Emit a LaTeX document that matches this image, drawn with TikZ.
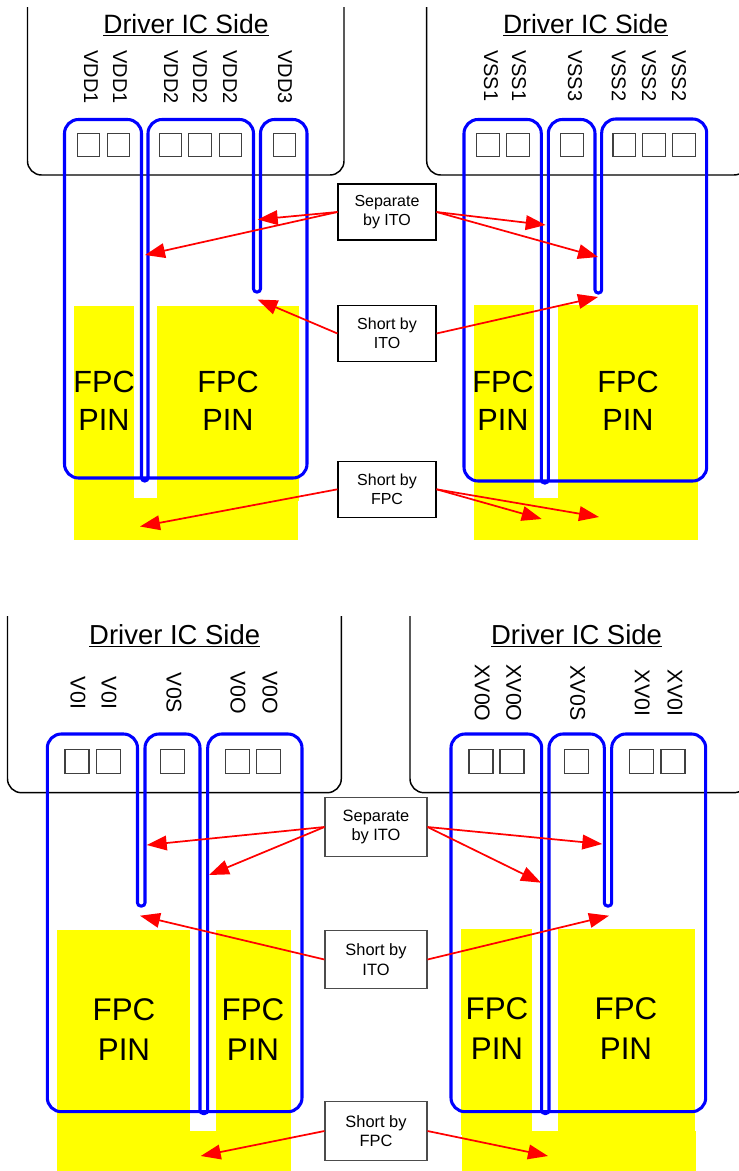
\documentclass[tikz,border=0pt]{standalone}
\usepackage{fontspec}
\setmainfont{Liberation Sans}
\usepackage{xcolor}
\usetikzlibrary{arrows.meta}
\definecolor{pinyellow}{RGB}{255,255,0}
\definecolor{tracecolor}{RGB}{0,0,255}
\definecolor{hintcolor}{RGB}{255,0,0}

\begin{document}
\begin{tikzpicture}[x=0.75pt,y=-0.75pt,
    icbox/.style={line width=1.1pt, rounded corners=10.5pt},
    trace/.style={tracecolor, line width=2.3pt},
    pin/.style={fill=pinyellow, draw=none},
    pad/.style={draw=black!75, line width=0.8pt, minimum size=17pt, inner sep=0pt},
    sidetitle/.style={inner sep=0pt, font=\fontsize{19.9}{24}\selectfont},
    sidetitleb/.style={inner sep=0pt, font=\fontsize{20.6}{24}\selectfont},
    signal/.style={rotate=-90, inner sep=0pt, font=\fontsize{15}{18}\selectfont},
    signalb/.style={rotate=-90, inner sep=0pt, font=\fontsize{16}{18}\selectfont},
    fpc/.style={align=center, inner sep=0pt, font=\fontsize{23}{28.5}\selectfont},
    fpcb/.style={align=center, inner sep=0pt, font=\fontsize{23.5}{30}\selectfont},
    note/.style={draw, fill=white, line width=0.8pt, align=center, inner sep=0pt, minimum width=73.5pt, minimum height=42pt, font=\fontsize{12}{13.9}\selectfont},
    noteb/.style={draw=black!70, fill=white, line width=0.8pt, align=center, inner sep=0pt, minimum width=76.5pt, minimum height=44pt, font=\fontsize{12.3}{14.6}\selectfont},
    hint/.style={hintcolor, line width=1.3pt, -{Triangle[length=15pt,width=11pt]}}]

    \useasboundingbox (0,0) rectangle (739,1171);

    %===========================
    % FPC pins
    %===========================

    % Top Left
    \fill[pin] (74,306) rectangle (134,498);
    \fill[pin] (157,306) rectangle (299,501);
    \fill[pin] (74,498) rectangle (298,540);

    % Top Right
    \fill[pin] (474,305) rectangle (534,498);
    \fill[pin] (558,305) rectangle (698,498);
    \fill[pin] (474,498) rectangle (698,540);

    % Bottom Left
    \fill[pin] (57,930) rectangle (190,1131);
    \fill[pin] (216,930) rectangle (291,1131);
    \fill[pin] (57,1131) rectangle (291,1171);

    % Bottom Right
    \fill[pin] (461,929) rectangle (532,1135);
    \fill[pin] (558,929) rectangle (695,1131);
    \fill[pin] (462,1131) rectangle (696,1171);

    \node (F1) at (104,401) [fpc]{FPC\\PIN};
    \node (F2) at (228,401) [fpc]{FPC\\PIN};
    \node (F3) at (503,401) [fpc]{FPC\\PIN};
    \node (F4) at (628,401) [fpc]{FPC\\PIN};
    \node (F5) at (124,1030) [fpcb]{FPC\\PIN};
    \node (F6) at (253,1030) [fpcb]{FPC\\PIN};
    \node (F7) at (497,1029) [fpcb]{FPC\\PIN};
    \node (F8) at (626,1029) [fpcb]{FPC\\PIN};

    %===========================
    % Driver IC
    %===========================

    \draw[icbox] (27.5,7) -- (27.5,175) -- (344,175) -- (344,7);
    \draw[icbox] (426.7,7) -- (426.7,175) -- (748,175) -- (748,7);
    \draw[icbox] (7.5,616) -- (7.5,792.7) -- (341.3,792.7) -- (341.3,616);
    \draw[icbox] (410,616) -- (410,792.7) -- (748,792.7) -- (748,616);

    \node (T1) at (186,25) [sidetitle]{\underline{Driver IC Side}};
    \node (T2) at (585.6,25) [sidetitle]{\underline{Driver IC Side}};
    \node (T3) at (174.7,636) [sidetitleb]{\underline{Driver IC Side}};
    \node (T4) at (576.5,636) [sidetitleb]{\underline{Driver IC Side}};

    % Top Left
    \node (A1) at (91,50) [signal,anchor=west]{VDD1};
    \node (A2) at (120,50) [signal,anchor=west]{VDD1};
    \node (A3) at (171,50) [signal,anchor=west]{VDD2};
    \node (A4) at (200,50) [signal,anchor=west]{VDD2};
    \node (A5) at (230,50) [signal,anchor=west]{VDD2};
    \node (A6) at (285,50) [signal,anchor=west]{VDD3};
    \node (PA1) at (88.5,145) [pad]{};
    \node (PA2) at (118.5,145) [pad]{};
    \node (PA3) at (170.5,145) [pad]{};
    \node (PA4) at (200,145) [pad]{};
    \node (PA5) at (230.5,145) [pad]{};
    \node (PA6) at (284.5,145) [pad]{};

    % Top Right
    \node (B1) at (491,50) [signal,anchor=west]{VSS1};
    \node (B2) at (519,50) [signal,anchor=west]{VSS1};
    \node (B3) at (575,50) [signal,anchor=west]{VSS3};
    \node (B4) at (618.7,50) [signal,anchor=west]{VSS2};
    \node (B5) at (649,50) [signal,anchor=west]{VSS2};
    \node (B6) at (679,50) [signal,anchor=west]{VSS2};
    \node (PB1) at (488,145) [pad]{};
    \node (PB2) at (518,145) [pad]{};
    \node (PB3) at (572,145) [pad]{};
    \node (PB4) at (624.3,145) [pad]{};
    \node (PB5) at (654,145) [pad]{};
    \node (PB6) at (684,145) [pad]{};

    % Bottom Left
    \node (C1) at (78,693) [signalb]{V0I};
    \node (C2) at (109,693) [signalb]{V0I};
    \node (C3) at (174,693) [signalb]{V0S};
    \node (C4) at (238,693) [signalb]{V0O};
    \node (C5) at (270,693) [signalb]{V0O};
    \node (PC1) at (77,761.5) [pad,minimum size=18pt]{};
    \node (PC2) at (108.5,761.5) [pad,minimum size=18pt]{};
    \node (PC3) at (172.5,761.5) [pad,minimum size=18pt]{};
    \node (PC4) at (237.5,761.5) [pad,minimum size=18pt]{};
    \node (PC5) at (268.7,761.5) [pad,minimum size=18pt]{};

    % Bottom Right
    \node (D1) at (482.3,693) [signalb]{XV0O};
    \node (D2) at (513.7,693) [signalb]{XV0O};
    \node (D3) at (577.7,693) [signalb]{XV0S};
    \node (D4) at (642.3,693) [signalb]{XV0I};
    \node (D5) at (675,693) [signalb]{XV0I};
    \node (PD1) at (481,761.5) [pad,minimum size=18pt]{};
    \node (PD2) at (512,761.5) [pad,minimum size=18pt]{};
    \node (PD3) at (576.7,761.5) [pad,minimum size=18pt]{};
    \node (PD4) at (641.7,761.5) [pad,minimum size=18pt]{};
    \node (PD5) at (673,761.5) [pad,minimum size=18pt]{};

    %===========================
    % Traces
    %===========================

    \draw[trace] (64.5,300) [rounded corners=10.5pt] -- (64.5,119.5) -- (141.5,119.5)
        [rounded corners=2.4pt] -- (141.5,481) -- (148,481)
        [rounded corners=10.5pt] -- (148,119.5) -- (253.5,119.5)
        [rounded corners=2.4pt] -- (253.5,292) -- (260.5,292)
        [rounded corners=10.5pt] -- (260.5,119.5) -- (307,119.5) -- (307,478) -- (64.5,478) -- cycle;

    \draw[trace] (464,300) [rounded corners=10.5pt] -- (464,119.5) -- (541.3,119.5)
        [rounded corners=2.4pt] -- (541.3,483) -- (548.3,483)
        [rounded corners=10.5pt] -- (548.3,119.5) -- (595,119.5)
        [rounded corners=2.4pt] -- (595,293) -- (601.7,293)
        [rounded corners=10.5pt] -- (601.7,119) -- (706.7,119) -- (706.7,481) -- (464,481) -- cycle;

    \draw[trace] (47.3,900) [rounded corners=10.5pt] -- (47.3,734) -- (137.5,734)
        [rounded corners=2.4pt] -- (137.5,906) -- (145,906)
        [rounded corners=10.5pt] -- (145,734) -- (200,734)
        [rounded corners=2.4pt] -- (200,1113.5) -- (207.7,1113.5)
        [rounded corners=10.5pt] -- (207.7,734) -- (302,734) -- (302,1111.7) -- (47.3,1111.7) -- cycle;

    \draw[trace] (451,900) [rounded corners=10.5pt] -- (451,734) -- (541.7,734)
        [rounded corners=2.4pt] -- (541.7,1113.5) -- (549,1113.5)
        [rounded corners=10.5pt] -- (549,734) -- (604.3,734)
        [rounded corners=2.4pt] -- (604.3,906) -- (611.7,906)
        [rounded corners=10.5pt] -- (611.7,734) -- (705.7,734) -- (705.7,1111.7) -- (451,1111.7) -- cycle;

    %===========================
    % Callouts
    %===========================

    \node (S1) at (387,212) [note]{Separate\\by ITO};
    \node (I1) at (387,333.5) [note]{Short by\\ITO};
    \node (P1) at (387,489.3) [note]{Short by\\FPC};
    \node (S2) at (376,827) [noteb]{Separate\\by ITO};
    \node (I2) at (376,959.5) [noteb]{Short by\\ITO};
    \node (P2) at (376,1131) [noteb]{Short by\\FPC};

    \coordinate (s1a) at (257.7,219.5);
    \coordinate (s1b) at (145,255);
    \coordinate (s1c) at (545.7,225);
    \coordinate (s1d) at (598,257);
    \coordinate (i1a) at (257.5,299.5);
    \coordinate (i1b) at (598,297);
    \coordinate (p1a) at (140,526.5);
    \coordinate (p1b) at (541.7,519);
    \coordinate (p1c) at (599,517);
    \coordinate (s2a) at (146.7,845);
    \coordinate (s2b) at (209,875);
    \coordinate (s2c) at (602.3,844);
    \coordinate (s2d) at (541,882.7);
    \coordinate (i2a) at (140,915.7);
    \coordinate (i2b) at (609,915.7);
    \coordinate (p2a) at (200.7,1156);
    \coordinate (p2b) at (548,1156);

    \draw[hint] (S1.west) to (s1a);
    \draw[hint] (S1.west) to (s1b);
    \draw[hint] (S1.east) to (s1c);
    \draw[hint] (S1.east) to (s1d);
    \draw[hint] (I1.west) to (i1a);
    \draw[hint] (I1.east) to (i1b);
    \draw[hint] (P1.west) to (p1a);
    \draw[hint] (P1.east) to (p1b);
    \draw[hint] (P1.east) to (p1c);
    \draw[hint] (S2.west) to (s2a);
    \draw[hint] (S2.west) to (s2b);
    \draw[hint] (S2.east) to (s2c);
    \draw[hint] (S2.east) to (s2d);
    \draw[hint] (I2.west) to (i2a);
    \draw[hint] (I2.east) to (i2b);
    \draw[hint] (P2.west) to (p2a);
    \draw[hint] (P2.east) to (p2b);
\end{tikzpicture}
\end{document}
